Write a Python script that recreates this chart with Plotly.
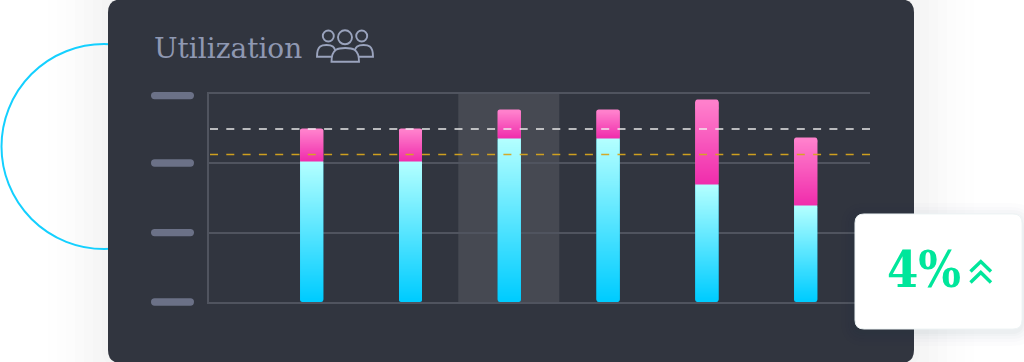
import plotly.graph_objects as go

categories = [0, 1, 2, 3, 4, 5]
base_values = [60.7, 60.7, 70.6, 70.6, 50.8, 41.8]
top_values = [74.9, 74.9, 83.1, 83.1, 87.4, 71.0]
grid_values = [0, 30, 60, 90]
white_limit = 74.7
orange_limit = 63.7
title_text = "Utilization"
badge_text = "4%"

W, H = 1024, 362
X0, X1, Y0, Y1 = 209, 870, 93.5, 302
STEP = 98.8
FIRST = 311.7
XMIN = -(FIRST - X0) / STEP
XMAX = (X1 - FIRST) / STEP
YMAX = grid_values[-1]
BAR_W = 23 / STEP
UNIT = YMAX / (Y1 - Y0)


def px(x):
    return round(x / W, 5)


def py(y):
    return round(1 - y / H, 5)


def rrect(x0, y0, x1, y1, r):
    p = lambda x, y: f"{px(x)},{py(y)}"
    return (f"M{p(x0+r,y0)} L{p(x1-r,y0)} Q{p(x1,y0)} {p(x1,y0+r)} L{p(x1,y1-r)} Q{p(x1,y1)} {p(x1-r,y1)} "
            f"L{p(x0+r,y1)} Q{p(x0,y1)} {p(x0,y1-r)} L{p(x0,y0+r)} Q{p(x0,y0)} {p(x0+r,y0)} Z")


def poly(points, close=False):
    s = "M" + " L".join(f"{px(x)},{py(y)}" for x, y in points)
    return s + (" Z" if close else "")


def dome(x0, x1, ytop, ybase):
    xm = (x0 + x1) / 2
    k = (x1 - x0) / 2
    return (f"M{px(x0)},{py(ybase)} C{px(x0)},{py(ytop)} {px(xm-k*0.45)},{py(ytop)} {px(xm)},{py(ytop)} "
            f"C{px(xm+k*0.45)},{py(ytop)} {px(x1)},{py(ytop)} {px(x1)},{py(ybase)} Z")


def mix(a, b, t):
    return "rgb(" + ",".join(str(round(a[i] + (b[i] - a[i]) * t)) for i in range(3)) + ")"


CY_TOP, CY_BOT = (179, 255, 255), (0, 204, 255)
PK_TOP, PK_BOT = (255, 128, 204), (240, 45, 172)
BG = "#31353f"
ICON = "#9aa3bd"
GREEN = "#00e69b"
PILL = "#6b7187"
GRID = "#50545f"

fig = go.Figure()

fig.add_bar(x=categories, base=base_values, y=[-v for v in base_values], width=BAR_W,
            marker=dict(color=mix(CY_TOP, CY_BOT, 1), cornerradius=2, line_width=0), hoverinfo="skip")
fig.add_bar(x=categories, base=base_values, y=[t - b for t, b in zip(top_values, base_values)], width=BAR_W,
            marker=dict(color=mix(PK_TOP, PK_BOT, 0), cornerradius=2, line_width=0), hoverinfo="skip")

xs, bs, hs, cs = [], [], [], []
for c, b, t in zip(categories, base_values, top_values):
    for lo, hi, ca, cb in [(2 * UNIT, b, CY_BOT, CY_TOP), (b, t - 2 * UNIT, PK_BOT, PK_TOP)]:
        n = max(2, round((hi - lo) / UNIT))
        for i in range(n):
            s0 = lo + (hi - lo) * i / n
            s1 = lo + (hi - lo) * (i + 1) / n
            xs.append(c)
            bs.append(s0)
            hs.append(s1 - s0 + (0.5 * UNIT if i < n - 1 else 0))
            cs.append(mix(ca, cb, i / (n - 1)))
fig.add_bar(x=xs, base=bs, y=hs, width=BAR_W, marker=dict(color=cs, line_width=0), hoverinfo="skip")

dash_x = [XMIN + 1 / STEP, XMAX]
fig.add_scatter(x=dash_x, y=[white_limit] * 2, mode="lines", hoverinfo="skip",
                line=dict(color="rgba(240,240,240,0.95)", width=1.6, dash="8px,8.3px"))
fig.add_scatter(x=dash_x, y=[orange_limit] * 2, mode="lines", hoverinfo="skip",
                line=dict(color="rgba(215,165,30,0.95)", width=1.6, dash="8px,8.3px"))

shapes = []
for i, a in zip(range(7), [0.008, 0.008, 0.009, 0.010, 0.010, 0.012, 0.012]):
    g = 60 - i * 9
    shapes.append(dict(type="path", path=rrect(108 - g, -10 - g, 914 + g, 362 + g, 20), xref="paper", yref="paper",
                       fillcolor=f"rgba(70,80,80,{a})", line_width=0, layer="below"))
shapes.append(dict(type="circle", xref="paper", yref="paper", x0=px(1.5), x1=px(206.5), y0=py(249), y1=py(44),
                   line=dict(color="#14d0ff", width=2), layer="below"))
shapes.append(dict(type="path", path=rrect(108, -0.5, 914, 363, 13),
                   xref="paper", yref="paper", fillcolor=BG, line_width=0, layer="below"))
shapes.append(dict(type="rect", xref="x", yref="paper", x0=2 - 51 / STEP, x1=2 + 50 / STEP, y0=py(Y1), y1=py(Y0),
                   fillcolor="rgba(255,255,255,0.10)", line_width=0, layer="below"))
for cy in [95.6, 163, 232.6, 302]:
    shapes.append(dict(type="path", path=rrect(151, cy - 3.7, 194, cy + 3.7, 3.7), xref="paper", yref="paper",
                       fillcolor=PILL, line_width=0, layer="below"))
for cx, cy, r in [(328.3, 36, 5.5), (361.7, 36, 5.5), (345, 37.3, 7)]:
    shapes.append(dict(type="circle", xref="paper", yref="paper", x0=px(cx - r), x1=px(cx + r), y0=py(cy + r), y1=py(cy - r),
                       line=dict(color=ICON, width=1.9), layer="below"))
shapes.append(dict(type="path", xref="paper", yref="paper", path=dome(317, 336, 45, 56.7), line=dict(color=ICON, width=1.9), layer="below"))
shapes.append(dict(type="path", xref="paper", yref="paper", path=dome(354, 373, 45, 56.7), line=dict(color=ICON, width=1.9), layer="below"))
shapes.append(dict(type="path", xref="paper", yref="paper", path=dome(331.5, 359, 48, 61.7), fillcolor=BG, line=dict(color=ICON, width=1.9), layer="below"))
for g, a in [(14, 0.010), (10, 0.012), (7, 0.014), (4, 0.016), (2, 0.02)]:
    shapes.append(dict(type="path", path=rrect(855 - g, 214 - g + 3, 1022 + g, 329 + g + 3, 10 + g), xref="paper", yref="paper",
                       fillcolor=f"rgba(20,40,50,{a})", line_width=0, layer="above"))
shapes.append(dict(type="path", path=rrect(855, 214, 1022, 329, 9), xref="paper", yref="paper",
                   fillcolor="#ffffff", line=dict(color="#eef4f5", width=1), layer="above"))
for apex, end in [(259.5, 271.5), (270.5, 282.5)]:
    shapes.append(dict(type="path", xref="paper", yref="paper",
                       path=poly([(970.5, end), (980.8, apex + 2), (991, end)]),
                       line=dict(color=GREEN, width=3.4), layer="above"))

fig.update_layout(
    width=W, height=H, margin=dict(l=0, r=0, t=0, b=0), paper_bgcolor="#ffffff", plot_bgcolor="rgba(0,0,0,0)",
    barmode="overlay", showlegend=False, shapes=shapes,
    xaxis=dict(domain=[px(X0), px(X1)], range=[XMIN, XMAX], showgrid=False, zeroline=False, showticklabels=False,
               ticks="", fixedrange=True, showline=True, linecolor=GRID, linewidth=1.5, mirror=True),
    yaxis=dict(domain=[py(Y1), py(Y0)], range=[0, YMAX], tickvals=grid_values, showticklabels=False, ticks="",
               gridcolor=GRID, gridwidth=1.5, zeroline=False, showline=True, linecolor=GRID, linewidth=1.5,
               fixedrange=True),
    annotations=[
        dict(text=title_text, xref="paper", yref="paper", x=px(152), y=py(48), xanchor="left", yanchor="middle",
             showarrow=False, font=dict(family="DejaVu Serif", size=28, color="#8f98b2")),
        dict(text=f"<b>{badge_text}</b>", xref="paper", yref="paper", x=px(885), y=py(269.5), xanchor="left", yanchor="middle",
             showarrow=False, font=dict(family="DejaVu Serif Condensed, DejaVu Serif", size=50, color=GREEN)),
    ],
)

fig.write_html("out.html", config=dict(displayModeBar=False),
               post_script="document.body.style.margin='0';document.body.style.overflow='hidden';")
